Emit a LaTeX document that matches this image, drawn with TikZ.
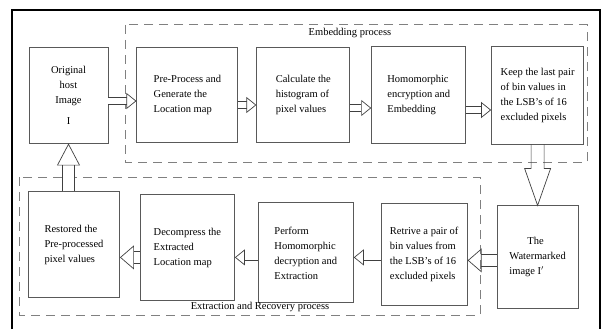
\documentclass[tikz,border=0pt]{standalone}
\usepackage{fontspec}
\setmainfont{Liberation Serif}
\usetikzlibrary{positioning,arrows.meta}

\begin{document}
\begin{tikzpicture}[x=1pt,y=-1pt,node distance=20pt,font=\fontsize{10.5}{15}\selectfont]
\tikzstyle{blk} = [rectangle, draw=black!65, line width=0.9pt, align=left, inner sep=4pt]
\tikzstyle{hollow} = [draw=black!75, line width=0.7pt, double, double distance=6pt, -{Triangle[open, length=10pt, width=16pt, line width=0.7pt]}]
\tikzstyle{bighollow} = [hollow, double distance=11pt, -{Triangle[open, length=14pt, width=24pt, line width=0.7pt]}]
\tikzstyle{outline} = [draw=black!75, line width=0.7pt, line join=miter]
\tikzstyle{region} = [draw=black!50, line width=1pt, dash pattern=on 9pt off 6pt]

\useasboundingbox (0,0) rectangle (604,329);
\draw[line width=1.6pt] (12,329) -- (12,10) -- (600,10) -- (600,329);

% embedding process
\node (orig) [blk, align=center, minimum width=79pt, minimum height=96pt] at (68.5,95) {Original\\host\\Image\\[6pt]I};
\node (pre) [blk, minimum width=101pt, minimum height=95pt, right=28pt of orig] {Pre-Process and\\Generate the\\Location map};
\node (calc) [blk, minimum width=93pt, minimum height=95pt, right=18pt of pre] {Calculate the\\histogram of\\pixel values};
\node (homo) [blk, minimum width=94pt, minimum height=97pt, right=21pt of calc] {Homomorphic\\encryption and\\Embedding};
\node (keep) [blk, minimum width=92pt, minimum height=98pt, right=25pt of homo] {Keep the last pair\\of bin values in\\the LSB's of 16\\excluded pixels};
\draw [region] (125,25) rectangle (587,162);
\node (emb) at (350,33) {Embedding process};

% extraction and recovery
\node (water) [blk, minimum width=81pt, minimum height=103pt, below=61pt of keep] {\hspace*{18pt}The\\Watermarked\\image I$'$};
\node (retr) [blk, minimum width=86pt, minimum height=102pt, left=29pt of water, yshift=2.5pt] {Retrive a pair of\\bin values from\\the LSB's of 16\\excluded pixels};
\node (perf) [blk, minimum width=95pt, minimum height=100pt, left=27pt of retr, yshift=2pt] {Perform\\Homomorphic\\decryption and\\Extraction};
\node (decomp) [blk, minimum width=94pt, minimum height=106pt, left=23pt of perf, yshift=5pt] {Decompress the\\Extracted\\Location map};
\node (rest) [blk, minimum width=91pt, minimum height=106pt, left=20pt of decomp, yshift=3pt] {Restored the\\Pre-processed\\pixel values};
\draw [region] (19,177) rectangle (480,315);
\node (ext) at (260,307) {Extraction and Recovery process};

\draw [hollow] ([yshift=-6pt]orig.east) -- ([yshift=-6pt]pre.west);
\draw [hollow] ([yshift=-10pt]pre.east) -- ([yshift=-10pt]calc.west);
\draw [hollow] ([yshift=-13pt]calc.east) -- ([yshift=-13pt]homo.west);
\draw [hollow] ([yshift=-15pt]homo.east) -- ([yshift=-15pt]keep.west);
% long head towards the watermarked image
\coordinate (kw) at ([yshift=37pt]water.north);
\draw [outline] ([xshift=-6.5pt]keep.south) -- ([xshift=-6.5pt]kw) -- ([xshift=-13pt]kw) -- (water.north)
  -- ([xshift=13pt]kw) -- ([xshift=6.5pt]kw) -- ([xshift=6.5pt]keep.south);
\draw [bighollow] ([yshift=-3pt]water.west) -- ([yshift=-3pt]retr.east |- water.west);
\draw [hollow] (retr.west |- water) -- (perf.east |- water);
\draw [hollow] (perf.west |- water) -- (decomp.east |- water);
\draw [bighollow] (decomp.west |- water) -- (rest.east |- water);
\draw [bighollow, -{Triangle[open, length=22pt, width=23pt, line width=0.7pt]}] (rest.north -| orig.south) -- (orig.south);

\end{tikzpicture}
\end{document}
